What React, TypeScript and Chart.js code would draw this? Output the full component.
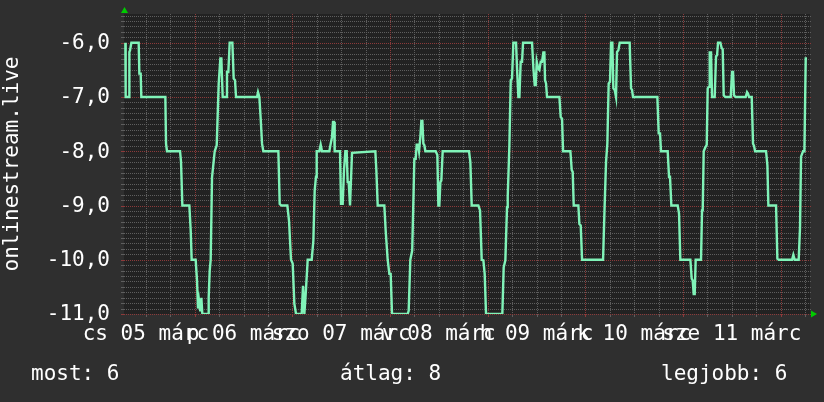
import React, { useEffect, useRef } from 'react';
import { Chart, registerables } from 'chart.js';

Chart.register(...registerables);

// hours since 05 márc 00:00
const hours = [
  6.96, 7.04, 7.86, 7.95, 8.11, 8.44, 10.24, 10.40, 10.73, 10.89, 16.79, 16.96, 17.20, 20.40, 20.64, 20.97, 22.69, 23.02, 23.26, 24.24,
  24.57, 24.82, 25.06, 25.39, 25.64, 25.88, 27.28, 27.44, 27.69, 27.93, 28.26,
  28.92, 29.41, 29.90, 30.31, 30.55, 30.88, 31.70, 31.94, 32.27, 32.60, 33.26, 33.58, 33.91, 34.16, 39.32, 39.56, 39.89, 40.22, 40.55,
  40.87, 44.56, 44.89, 45.30, 46.77, 47.18, 47.67, 48.08, 48.49, 48.90, 50.29, 50.62, 50.95, 51.28, 51.77, 52.75, 53.16, 53.49,
  53.81, 53.98, 54.63, 54.96, 55.29, 57.09, 57.42, 57.74, 57.99, 58.24, 58.40, 59.71, 59.96, 60.37, 60.69, 61.02, 61.35, 61.59, 61.84,
  62.17, 62.41, 62.66, 68.39, 68.64, 68.97, 70.60, 70.93, 71.42, 71.83, 72.16, 72.49, 76.34, 76.58, 76.99, 77.45,
  77.98, 78.31, 78.55, 78.88, 79.13, 79.45, 79.70, 79.95, 80.19, 80.44, 80.68, 83.22, 83.63, 83.88, 84.12, 84.37, 84.61, 84.94, 91.41,
  91.74, 92.07, 93.71, 94.12, 94.53, 94.94, 95.26, 95.59, 99.60, 99.93, 100.34, 100.75,
  100.92, 101.33, 101.66, 101.98, 102.31, 102.97, 103.21, 103.54, 103.79, 104.11, 104.44, 104.69, 106.90, 107.23, 107.55, 107.80,
  108.05, 108.37, 108.70, 109.03, 109.36, 109.68, 109.93, 110.09, 110.34, 110.58, 113.62, 113.94, 114.27, 114.52, 116.32, 116.65,
  116.89, 117.14, 118.28, 118.53, 118.86, 119.19, 124.35,
  124.75, 125.08, 125.40, 125.73, 126.06, 126.31, 126.63, 126.88, 127.21, 127.53, 127.78, 128.11, 128.44, 130.89, 131.22, 131.47,
  131.71, 137.69, 138.02, 138.35, 138.59, 140.23, 140.56, 140.80, 141.13, 142.69, 143.02, 143.34, 145.80, 146.13, 146.37, 146.62,
  146.87, 147.11, 148.42, 148.67,
  148.84, 149.08, 149.41, 149.82, 150.06, 150.39, 150.56, 150.88, 151.13, 151.78, 152.11, 152.36, 152.60, 153.18, 153.50, 153.75,
  154.00, 154.41, 155.72, 156.04, 156.29, 156.53, 156.94, 159.40, 159.73, 159.98, 160.22, 160.88, 161.20, 161.45, 161.70, 164.40,
  164.73, 164.97, 166.86, 167.18, 167.51, 170.79, 171.11, 171.44, 172.42, 172.75, 173.00, 173.49, 173.82, 174.15, 174.47,
];

const values = [
  -6, -7, -7, -6.17, -6.14, -6, -6, -6.57, -6.57, -7, -7, -7.86, -8, -8, -8.19, -9, -9, -9.46, -10, -10,
  -10.38, -10.9, -10.75, -10.95, -10.7, -11, -11, -10.7, -10.2, -10, -8.48,
  -8, -7.89, -6.75, -6.29, -6.29, -7, -7, -6.54, -6.54, -6, -6, -6.66, -6.69, -7, -7, -6.91, -7, -7.4, -7.86,
  -8, -8, -8.97, -9, -9, -9.28, -10, -10.07, -10.81, -11, -11, -10.48, -11, -10.63, -10, -10, -9.65, -8.72,
  -8.47, -8, -8, -7.88, -8, -8, -7.86, -7.74, -7.46, -7.46, -8, -8, -8.97, -8.97, -8.35, -8, -8, -8.57, -8.57,
  -9, -9, -8.03, -8, -8.35, -9, -9, -9.46, -10, -10.26, -10.26, -11, -11, -10.94, -10, -9.83,
  -8.14, -8.14, -7.88, -7.88, -8, -7.74, -7.44, -7.44, -7.86, -7.89, -8, -8, -8.07, -9, -9, -8.57, -8.54, -8, -8,
  -8.2, -9, -9, -9.09, -10, -10.01, -10.26, -11, -11, -10.14, -10.01, -9.03,
  -8.84, -7.89, -6.69, -6.66, -6, -6, -6.47, -7, -7, -6.35, -6.35, -6, -6, -6.47, -6.78, -6.78,
  -6.35, -6.47, -6.5, -6.35, -6.35, -6.18, -6.18, -6.69, -6.75, -7, -7, -7.37, -7.4, -8, -8, -8.35,
  -8.38, -9, -9, -9.34, -9.37, -10, -10,
  -8.97, -8.2, -7.86, -6.75, -6.72, -6, -6, -6.84, -6.87, -7, -6.17, -6.14, -6, -6, -6.84, -6.87,
  -7, -7, -7.67, -7.67, -8, -8, -8.47, -8.47, -9, -9, -9.15, -10, -10, -10.35, -10.38, -10.63,
  -10.63, -10, -10, -9.09,
  -9.06, -8, -7.94, -7.88, -6.84, -6.81, -6.18, -6.18, -7, -7, -6.25, -6.23, -6, -6, -6.1, -6.12,
  -6.97, -7, -7, -6.54, -6.54, -6.97, -7, -7, -6.91, -6.94, -7, -7, -7.86, -7.9, -8, -8,
  -8.26, -9, -9, -9.98, -10, -10, -9.91, -10, -10, -9.4, -8.1, -8, -8, -6.29, -6.29,
];

const dayLabels = ['cs 05 márc', 'p 06 márc', 'szo 07 márc', 'v 08 márc', 'h 09 márc', 'k 10 márc', 'sze 11 márc'];
const dayLabelHours = [12, 36, 60, 84, 108, 132, 156];
const yTickValues = [-11, -10, -9, -8, -7, -6];
const legendTexts = ['most: 6', 'átlag: 8', 'legjobb: 6'];
const axisTitle = 'onlinestream.live';

const X_MIN = 6.63;
const X_MAX = 175.2;
const Y_MIN = -11;
const Y_MAX = -5.47;

const OUTER_BG = '#2f2f2f';
const PLOT_BG = '#222222';
const MINOR = '#5e5e5e';
const MAJOR = '#8c3a3a';
const LINE = '#80f3b8';
const TEXT = '#ffffff';
const ARROW = '#00cc00';
const FONT = '"DejaVu Sans Mono", monospace';

const rrdPlugin = {
  id: 'rrdDecor',
  beforeDraw(chart: any) {
    const { ctx, chartArea: a, width, height } = chart;
    ctx.save();
    ctx.fillStyle = OUTER_BG;
    ctx.fillRect(0, 0, width, height);
    ctx.fillStyle = PLOT_BG;
    ctx.fillRect(a.left, a.top, a.right - a.left, a.bottom - a.top);
    ctx.restore();
  },
  beforeDatasetsDraw(chart: any) {
    const { ctx, chartArea: a, scales } = chart;
    const xs = scales.x;
    const ys = scales.y;
    const left = Math.round(a.left);
    const right = Math.round(a.right);
    const top = Math.round(a.top);
    const bottom = Math.round(a.bottom);
    ctx.save();
    const drawH = (v: number, color: string) => {
      const py = Math.round(ys.getPixelForValue(v));
      ctx.fillStyle = color;
      ctx.fillRect(left - 3, py, 3, 1);
      for (let x = left; x <= right; x += 2) ctx.fillRect(x, py, 1, 1);
    };
    const drawV = (h: number, color: string) => {
      const px = Math.round(xs.getPixelForValue(h));
      ctx.fillStyle = color;
      for (let y = top; y <= bottom; y += 2) ctx.fillRect(px, y, 1, 1);
      ctx.fillRect(px, bottom, 1, 3);
    };
    const lo = Math.ceil(Y_MIN * 10);
    const hi = Math.floor(Y_MAX * 10);
    for (let i = lo; i <= hi; i++) if (i % 10 !== 0) drawH(i / 10, MINOR);
    for (let h = Math.ceil(X_MIN / 6) * 6; h <= X_MAX; h += 6) if (h % 24 !== 0) drawV(h, MINOR);
    for (let i = lo; i <= hi; i++) if (i % 10 === 0) drawH(i / 10, MAJOR);
    for (let h = Math.ceil(X_MIN / 24) * 24; h <= X_MAX; h += 24) drawV(h, MAJOR);
    ctx.restore();
  },
  afterDraw(chart: any) {
    const { ctx, chartArea: a } = chart;
    ctx.save();
    // arrows
    ctx.fillStyle = ARROW;
    ctx.beginPath();
    ctx.moveTo(a.left - 3, a.top - 1);
    ctx.lineTo(a.left + 4, a.top - 1);
    ctx.lineTo(a.left + 0.5, a.top - 7);
    ctx.closePath();
    ctx.fill();
    ctx.beginPath();
    ctx.moveTo(a.right + 1, a.bottom - 3.5);
    ctx.lineTo(a.right + 1, a.bottom + 3.5);
    ctx.lineTo(a.right + 7, a.bottom);
    ctx.closePath();
    ctx.fill();
    // legend
    ctx.fillStyle = TEXT;
    ctx.font = `21px ${FONT}`;
    ctx.textBaseline = 'alphabetic';
    ctx.textAlign = 'left';
    ctx.fillText(legendTexts[0], 31, 380);
    ctx.fillText(legendTexts[1], 340, 380);
    ctx.fillText(legendTexts[2], 661, 380);
    // y title
    ctx.translate(13, (a.top + a.bottom) / 2);
    ctx.rotate(-Math.PI / 2);
    ctx.textAlign = 'center';
    ctx.textBaseline = 'middle';
    ctx.fillText(axisTitle, 0, 0);
    ctx.restore();
  },
};

export default function App() {
  const ref = useRef<HTMLCanvasElement | null>(null);
  useEffect(() => {
    document.body.style.margin = '0';
    document.body.style.background = OUTER_BG;
    if (!ref.current) return;
    const points = hours.map((h, i) => ({ x: h, y: values[i] }));
    const chart = new Chart(ref.current, {
      type: 'line',
      data: {
        datasets: [
          {
            data: points,
            borderColor: LINE,
            borderWidth: 2.4,
            pointRadius: 0,
            tension: 0,
            fill: false,
          },
        ],
      },
      options: {
        animation: false,
        responsive: false,
        devicePixelRatio: 1,
        layout: { padding: { left: 0, right: 14, top: 14, bottom: 0 } },
        plugins: { legend: { display: false }, tooltip: { enabled: false }, title: { display: false } },
        scales: {
          x: {
            type: 'linear',
            min: X_MIN,
            max: X_MAX,
            border: { display: false },
            grid: { display: false, drawTicks: false },
            afterBuildTicks: (scale: any) => {
              scale.ticks = dayLabelHours.map((v) => ({ value: v }));
            },
            afterFit: (scale: any) => {
              scale.height = 88;
              scale.paddingLeft = 0;
              scale.paddingRight = 0;
              scale.paddingTop = 0;
              scale.paddingBottom = 0;
            },
            ticks: {
              autoSkip: false,
              maxRotation: 0,
              minRotation: 0,
              padding: 8,
              color: TEXT,
              font: { family: FONT, size: 21 },
              callback: (_v: any, i: number) => dayLabels[i],
            },
          },
          y: {
            type: 'linear',
            min: Y_MIN,
            max: Y_MAX,
            border: { display: false },
            grid: { display: false, drawTicks: false },
            afterBuildTicks: (scale: any) => {
              scale.ticks = yTickValues.map((v) => ({ value: v }));
            },
            afterFit: (scale: any) => {
              scale.width = 124;
              scale.paddingTop = 0;
              scale.paddingBottom = 0;
              scale.paddingLeft = 0;
              scale.paddingRight = 0;
            },
            ticks: {
              padding: 14,
              labelOffset: 1,
              color: TEXT,
              font: { family: FONT, size: 21 },
              callback: (v: any) => Number(v).toFixed(1).replace('.', ','),
            },
          },
        },
      },
      plugins: [rrdPlugin],
    } as any);
    return () => chart.destroy();
  }, []);
  return <canvas ref={ref} width={824} height={402} style={{ display: 'block' }} />;
}
